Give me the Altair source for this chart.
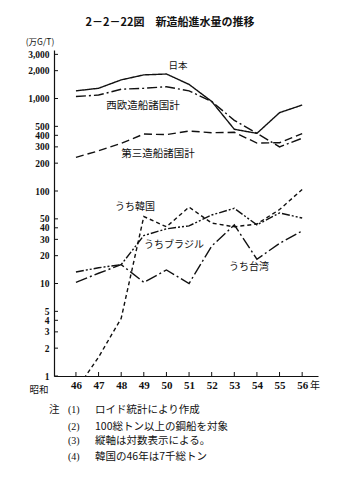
import altair as alt
import pandas as pd

years = [46, 47, 48, 49, 50, 51, 52, 53, 54, 55, 56]
japan = [1210, 1290, 1590, 1800, 1840, 1420, 930, 465, 420, 703, 850]
west_europe = [1050, 1090, 1260, 1290, 1340, 1210, 930, 580, 420, 300, 372]
third_world = [231, 272, 327, 413, 407, 445, 427, 431, 330, 333, 418]
korea = [0.7, 1.6, 4.2, 53, 41, 67, 45, 41, 44, 63, 104]
brazil = [13.3, 14.8, 16, 33, 39, 42, 55, 65, 43, 58, 51]
taiwan = [10.3, 12.9, 16, 10.3, 14, 10, 25.4, 43, 18.3, 27.2, 37]

series_names = ["日本", "西欧造船諸国計", "第三造船諸国計", "うち韓国", "うちブラジル", "うち台湾"]
series_values = [japan, west_europe, third_world, korea, brazil, taiwan]
dash_patterns = [[1, 0], [10, 3, 2, 3], [8, 4], [4, 3], [8, 2, 2, 2, 2, 2], [12, 3, 2, 3]]

y_ticks = [1, 2, 3, 4, 5, 10, 20, 30, 40, 50, 100, 200, 300, 400, 500, 1000, 2000, 3000]

notes_marks = ["注", "", "", ""]
notes_nums = ["(1)", "(2)", "(3)", "(4)"]
notes_text = ["ロイド統計により作成", "100総トン以上の鋼船を対象", "縦軸は対数表示による。", "韓国の46年は7千総トン"]

rows = []
for name, vals in zip(series_names, series_values):
    for yr, v in zip(years, vals):
        rows.append({"year": yr, "value": v, "series": name})
df = pd.DataFrame(rows)

W, H = 264, 326
xscale = alt.Scale(domain=[45.03, 56.7], nice=False, zero=False)
yscale = alt.Scale(type="log", domain=[1, 3345], nice=False)
INK = "#111111"
JP = "Noto Sans CJK JP"
SERIF = "Liberation Serif"

xaxis = alt.Axis(values=years, format="d", ticks=False, grid=False, title=None,
                 domainColor=INK, domainWidth=1.2, labelFont=SERIF, labelFontWeight="bold",
                 labelFontSize=11, labelColor=INK, labelPadding=3, labelOverlap=False)
yaxis = alt.Axis(values=y_ticks, format=",d", ticks=False, grid=False, title=None,
                 domainColor=INK, domainWidth=1.2, labelFont=SERIF, labelFontWeight="bold",
                 labelFontSize=9.5, labelColor=INK, labelPadding=5, labelOverlap=False)

lines = alt.Chart(df).mark_line(clip=True, strokeWidth=1.4, color=INK).encode(
    x=alt.X("year:Q", scale=xscale, axis=xaxis),
    y=alt.Y("value:Q", scale=yscale, axis=yaxis),
    strokeDash=alt.StrokeDash("series:N", scale=alt.Scale(domain=series_names, range=dash_patterns), legend=None),
    detail="series:N",
)

ytick_df = pd.DataFrame({"v": y_ticks})
yticks = alt.Chart(ytick_df).mark_rule(color=INK, strokeWidth=1).encode(
    y=alt.Y("v:Q", scale=yscale, axis=yaxis), x=alt.value(0), x2=alt.value(4)
)
xtick_df = pd.DataFrame({"yr": years})
xticks = alt.Chart(xtick_df).mark_rule(color=INK, strokeWidth=1).encode(
    x=alt.X("yr:Q", scale=xscale, axis=xaxis), y=alt.value(H), y2=alt.value(H - 4)
)

one = pd.DataFrame({"k": [0]})

def txt(text, x, y, size=10, weight="normal", font=JP, align="center"):
    return alt.Chart(one).mark_text(
        text=text, font=font, fontSize=size, fontWeight=weight, color=INK,
        align=align, baseline="middle"
    ).encode(x=alt.value(x), y=alt.value(y))

labels = [
    txt("2－2－22図　新造船進水量の推移", 116, -27, size=11, weight="bold"),
    txt("(万G/T)", -14, -8, size=8.5),
    txt("日本", 124, 16, size=9.5),
    txt("西欧造船諸国計", 89, 56, size=10.5),
    txt("第三造船諸国計", 104, 104, size=10.5),
    txt("うち韓国", 81, 157, size=10),
    txt("うちブラジル", 120, 195, size=10),
    txt("うち台湾", 195, 217, size=10),
    txt("昭和", -15, 340, size=9.5),
    txt("年", 261, 336, size=10),
]
note_y = [360, 377, 391, 407]
for m, n, t, yy in zip(notes_marks, notes_nums, notes_text, note_y):
    if m:
        labels.append(txt(m, -5, yy, size=10.5, align="left"))
    labels.append(txt(n, 14, yy, size=10, align="left", font=SERIF))
    labels.append(txt(t, 41, yy, size=10.5, align="left"))

chart = alt.layer(lines, yticks, xticks, *labels).properties(
    width=W, height=H,
    padding={"left": 54, "top": 50, "right": 33, "bottom": 106},
    autosize=alt.AutoSizeParams(type="none"),
    background="white",
).configure_view(stroke=None)

chart.save("out.html", embed_options={"renderer": "svg", "actions": False})
